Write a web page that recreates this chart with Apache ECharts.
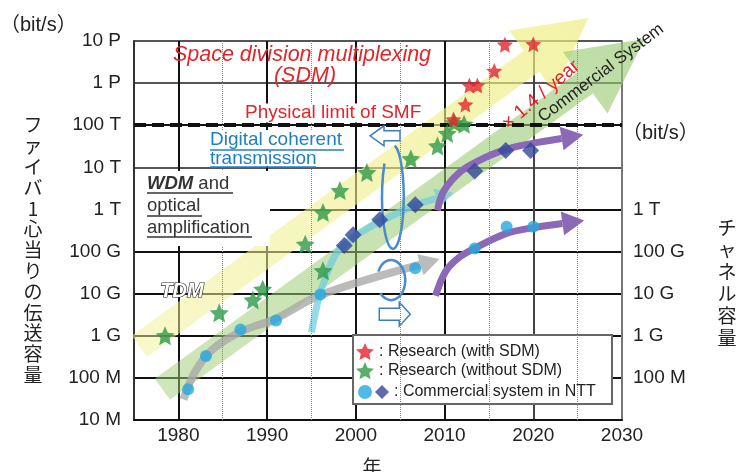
<!DOCTYPE html>
<html><head><meta charset="utf-8">
<script src="https://cdn.jsdelivr.net/npm/echarts@6/dist/echarts.min.js"></script>
<style>html,body{margin:0;padding:0;background:#fff}#c{width:742px;height:472px}</style>
</head><body><div id="c"></div>
<script>
// ---------- axes ----------
const xMin = 1975, xMax = 2030;
const yTickLabels  = ['10 M','100 M','1 G','10 G','100 G','1 T','10 T','100 T','1 P','10 P'];
const yRightLabels = ['', '100 M','1 G','10 G','100 G','1 T','','','',''];
const halfDecadeYears = [1985, 1995, 2005, 2015, 2025];
const physicalLimit = 1e14;

// ---------- data ----------
const sdmYears   = [2011.0, 2012.35, 2012.8, 2013.7, 2015.6, 2016.8, 2020.0];
const sdmValues  = [1.36e14, 3.1e14, 8.8e14, 8.8e14, 1.95e15, 8.2e15, 8.4e15];
const resYears   = [1978.5, 1984.6, 1988.4, 1989.5, 1994.3, 1996.3, 1996.3, 1998.2, 2001.25, 2006.2, 2009.2, 2010.3, 2011.1, 2012.2];
const resValues  = [1e9, 3.5e9, 7.1e9, 1.28e10, 1.5e11, 3.5e10, 8.5e11, 2.8e12, 7.5e12, 1.6e13, 3.2e13, 6.4e13, 1.15e14, 1.05e14];
const nttCircleYears  = [1981.1, 1983.1, 1987.0, 1991.0, 1996.0, 2006.7, 2013.4, 2017.0, 2020.0];
const nttCircleValues = [5.4e7, 3.3e8, 1.4e9, 2.3e9, 9.6e9, 4e10, 1.18e11, 3.9e11, 3.9e11];
const nttDiamondYears  = [1998.7, 1999.7, 2002.7, 2006.7, 2013.4, 2016.9, 2019.7];
const nttDiamondValues = [1.4e11, 2.5e11, 5.7e11, 1.3e12, 8.2e12, 2.5e13, 2.5e13];

// trend bands: tail, head base, tip
const researchBandYears    = [1975.6, 2019.8, 2026.2];
const researchBandValues   = [5.6e8, 3.3e15, 3.5e16];
const commercialBandYears  = [1978.2, 2025.85, 2032.55];
const commercialBandValues = [5.4e7, 1.02e15, 1.12e16];

// annotation arrows (last point = tip)
const tdmArrowYears   = [1980.57, 1981.93, 1983.86, 1987.05, 1991.02, 1996.02, 2009.43];
const tdmArrowValues  = [3.1e7, 1.45e8, 4.8e8, 1.26e9, 2.57e9, 9.3e9, 6.7e10];
const cohArrowYears   = [1995.0, 1995.68, 1996.59, 1997.73, 1999.2, 2001.25, 2004.09, 2006.7, 2011.02];
const cohArrowValues  = [1.2e9, 5.9e9, 2.5e10, 8.5e10, 1.8e11, 3.5e11, 7.1e11, 1.26e12, 2.5e12];
const sdmFiberArrowYears  = [2009.2, 2009.89, 2011.7, 2013.75, 2016.98, 2019.88, 2025.64];
const sdmFiberArrowValues = [9.5e11, 2.7e12, 7.6e12, 1.41e13, 2.7e13, 3.7e13, 5.9e13];
const channelArrowYears   = [2008.98, 2010.11, 2011.59, 2013.52, 2016.98, 2020.0, 2025.74];
const channelArrowValues  = [8.9e9, 3.35e10, 7.1e10, 1.23e11, 2.7e11, 3.7e11, 5.5e11];

// loops (bounding box) and hollow arrows (tip)
const bigLoopYears    = [2002.95, 2005.4];
const bigLoopValues   = [1.16e11, 3.4e13];
const smallLoopYears  = [2002.39, 2005.57];
const smallLoopValues = [7.0e9, 6.3e10];
const hollowArrowYears  = [2001.6, 2006.14];
const hollowArrowValues = [5.6e13, 3.26e9];

// ---------- styling ----------
const FONT = "'Liberation Sans', Arial, 'Noto Sans CJK JP', sans-serif";
const JP = "'Noto Sans CJK JP', sans-serif";
const RED = '#e3242b', BLUE = '#1f7fc6';
const T = 'rgba(0,0,0,0)';
const STAR = 'path://M100,0L127.6,62L195.1,69.1L144.7,114.5L158.8,180.9L100,147L41.2,180.9L55.3,114.5L4.9,69.1L72.4,62Z';
const hSplitColors = ['#111','#111','#111','#111','#111','#111','#555','#111','#555','#555'];
const vSplitColors = [T,'#111',T,'#111',T,'#111',T,'#111',T,'#444',T,'#777'];

const zip = (xs, ys) => xs.map((x, i) => [x, ys[i]]);

const bandDefs = [
  {years: researchBandYears, values: researchBandValues, c0: 'rgba(240,240,150,0.50)', c1: 'rgba(238,238,130,0.70)'},
  {years: commercialBandYears, values: commercialBandValues, c0: 'rgba(160,205,120,0.50)', c1: 'rgba(150,200,110,0.62)'}
];
const arrowDefs = [
  {years: tdmArrowYears, values: tdmArrowValues, color: 'rgba(170,170,170,0.8)', width: 8, headLen: 20, headHalf: 11},
  {years: cohArrowYears, values: cohArrowValues, color: 'rgba(115,205,220,0.75)', width: 7, headLen: 18, headHalf: 10},
  {years: sdmFiberArrowYears, values: sdmFiberArrowValues, color: '#8b69b7', width: 7, headLen: 22, headHalf: 12},
  {years: channelArrowYears, values: channelArrowValues, color: '#8b69b7', width: 7, headLen: 22, headHalf: 12}
];
const loopDefs = [
  {years: bigLoopYears, values: bigLoopValues, a0: -80, a1: 220},
  {years: smallLoopYears, values: smallLoopValues, a0: -155, a1: 140}
];
const hollowDefs = [
  {dir: -1, headLen: 14, headHalf: 10, shaftHalf: 5, total: 30},
  {dir: 1, headLen: 11, headHalf: 12, shaftHalf: 6, total: 31}
];

function bandItem(params, api) {
  const d = bandDefs[api.value(2)];
  const t = api.coord([d.years[0], d.values[0]]);
  const b = api.coord([d.years[1], d.values[1]]);
  const p = api.coord([d.years[2], d.values[2]]);
  let dx = b[0] - t[0], dy = b[1] - t[1];
  const L = Math.hypot(dx, dy); dx /= L; dy /= L;
  const nx = -dy, ny = dx, w = 13, H = 38;
  const pts = [
    [t[0] + nx * w, t[1] + ny * w], [b[0] + nx * w, b[1] + ny * w], [b[0] + nx * H, b[1] + ny * H], p,
    [b[0] - nx * H, b[1] - ny * H], [b[0] - nx * w, b[1] - ny * w], [t[0] - nx * w, t[1] - ny * w]
  ];
  return {type: 'polygon', shape: {points: pts},
    style: {fill: new echarts.graphic.LinearGradient(t[0], t[1], p[0], p[1],
      [{offset: 0, color: d.c0}, {offset: 1, color: d.c1}], true)}};
}
function arrowItem(params, api) {
  const d = arrowDefs[api.value(2)];
  const pts = d.years.map((x, i) => api.coord([x, d.values[i]]));
  const tip = pts[pts.length - 1], prev = pts[pts.length - 2];
  let dx = tip[0] - prev[0], dy = tip[1] - prev[1];
  const L = Math.hypot(dx, dy); dx /= L; dy /= L;
  const base = [tip[0] - dx * d.headLen, tip[1] - dy * d.headLen];
  const shaft = pts.slice(0, -1).concat([base]);
  const hh = d.headHalf;
  return {type: 'group', children: [
    {type: 'polyline', shape: {points: shaft, smooth: 0.35},
      style: {stroke: d.color, lineWidth: d.width, fill: null, lineCap: 'butt', lineJoin: 'round'}},
    {type: 'polygon', shape: {points: [tip, [base[0] - dy * hh, base[1] + dx * hh], [base[0] + dy * hh, base[1] - dx * hh]]},
      style: {fill: d.color}}
  ]};
}
function loopItem(params, api) {
  const k = api.value(2);
  if (k < 2) {
    const d = loopDefs[k];
    const p0 = api.coord([d.years[0], d.values[0]]);
    const p1 = api.coord([d.years[1], d.values[1]]);
    const cx = (p0[0] + p1[0]) / 2, cy = (p0[1] + p1[1]) / 2;
    const rx = Math.abs(p1[0] - p0[0]) / 2, ry = Math.abs(p1[1] - p0[1]) / 2;
    const r = a => [cx + rx * Math.cos(a * Math.PI / 180), cy + ry * Math.sin(a * Math.PI / 180)];
    const s = r(d.a0), e = r(d.a1);
    const large = ((d.a1 - d.a0 + 360) % 360) > 180 ? 1 : 0;
    return {type: 'path', shape: {pathData: `M${s[0]} ${s[1]} A${rx} ${ry} 0 ${large} 1 ${e[0]} ${e[1]}`},
      style: {stroke: '#4a8bcf', lineWidth: 2.5, fill: null}};
  }
  const h = hollowDefs[k - 2];
  const tp = api.coord([hollowArrowYears[k - 2], hollowArrowValues[k - 2]]);
  const s = h.dir, tx = tp[0], ty = tp[1];
  const pts = [[tx, ty], [tx - s * h.headLen, ty - h.headHalf], [tx - s * h.headLen, ty - h.shaftHalf],
    [tx - s * h.total, ty - h.shaftHalf], [tx - s * h.total, ty + h.shaftHalf],
    [tx - s * h.headLen, ty + h.shaftHalf], [tx - s * h.headLen, ty + h.headHalf]];
  return {type: 'polygon', shape: {points: pts}, style: {fill: '#fff', stroke: '#3e7cc0', lineWidth: 1.5}};
}

const SDM_NAME = ': Research (with SDM)';
const RES_NAME = ': Research (without SDM)';
const CIRCLE_NAME = 'NTT commercial (TDM / channel)';
const DIAMOND_NAME = ': Commercial system in NTT';

const leftTitle = 'ファイバ1心当りの伝送容量';
const rightTitle = 'チャネル容量';

function txt(text, x, y, o) {
  o = o || {};
  return {type: 'text', x: x, y: y, z: o.z || 7, rotation: o.rotation || 0,
    style: Object.assign({text: text, fill: '#222', fontSize: 19, fontFamily: FONT,
      textAlign: 'left', textVerticalAlign: 'middle'}, o.style || {})};
}
function uline(x1, x2, y, color) {
  return {type: 'line', z: 7, shape: {x1: x1, y1: y, x2: x2, y2: y}, style: {stroke: color, lineWidth: 1.3}};
}

const option = {
  animation: false,
  grid: {left: 134, right: 120, top: 41, bottom: 52, show: true, borderColor: '#777', borderWidth: 1.5},
  xAxis: {
    type: 'value', min: xMin, max: xMax, interval: 5,
    axisLine: {show: true, onZero: false, lineStyle: {color: '#111', width: 2}},
    axisTick: {show: false},
    axisLabel: {formatter: v => (v % 10 === 0 ? String(v) : ''), color: '#222', fontSize: 19, fontFamily: FONT, margin: 6},
    splitLine: {show: true, lineStyle: {color: vSplitColors, width: 2}}
  },
  yAxis: [{
    type: 'log', logBase: 10, min: 1e7, max: 1e16, splitNumber: 9, position: 'left',
    axisLine: {show: true, onZero: false, lineStyle: {color: '#333', width: 2}},
    axisTick: {show: false},
    axisLabel: {formatter: v => yTickLabels[Math.round(Math.log10(v)) - 7] || '', color: '#222', fontSize: 19, fontFamily: FONT, margin: 13},
    splitLine: {show: true, lineStyle: {color: hSplitColors, width: 2}}
  }, {
    type: 'log', logBase: 10, min: 1e7, max: 1e16, splitNumber: 9, position: 'right',
    axisLine: {show: false}, axisTick: {show: false}, splitLine: {show: false},
    axisLabel: {formatter: v => yRightLabels[Math.round(Math.log10(v)) - 7] || '', color: '#222', fontSize: 19, fontFamily: FONT, margin: 11}
  }],
  legend: [{
    orient: 'vertical', left: 356, top: 343, padding: 0, itemWidth: 18, itemHeight: 18, itemGap: 2,
    selectedMode: false, z: 6, data: [SDM_NAME, RES_NAME],
    textStyle: {fontSize: 16, color: '#222', fontFamily: FONT}
  }, {
    orient: 'horizontal', left: 358, top: 384, padding: 0, itemWidth: 14, itemHeight: 14, itemGap: 3,
    selectedMode: false, z: 6, data: [CIRCLE_NAME, DIAMOND_NAME],
    formatter: n => (n === CIRCLE_NAME ? '' : n),
    textStyle: {fontSize: 16, color: '#222', fontFamily: FONT}
  }],
  series: [
    {type: 'custom', name: 'bands', z: 1, silent: true, clip: false, renderItem: bandItem,
      encode: {x: 0, y: 1}, data: [[researchBandYears[0], researchBandValues[0], 0], [commercialBandYears[0], commercialBandValues[0], 1]]},
    {type: 'custom', name: 'arrows', z: 2, silent: true, clip: false, renderItem: arrowItem,
      encode: {x: 0, y: 1}, data: arrowDefs.map((d, i) => [d.years[0], d.values[0], i])},
    {type: 'custom', name: 'loops', z: 2, silent: true, clip: false, renderItem: loopItem,
      encode: {x: 0, y: 1}, data: [[bigLoopYears[0], bigLoopValues[0], 0], [smallLoopYears[0], smallLoopValues[0], 1],
        [hollowArrowYears[0], hollowArrowValues[0], 2], [hollowArrowYears[1], hollowArrowValues[1], 3]]},
    {type: 'scatter', name: CIRCLE_NAME, z: 3, symbol: 'circle', symbolSize: 12,
      itemStyle: {color: '#27a8e0'}, data: zip(nttCircleYears, nttCircleValues)},
    {type: 'scatter', name: DIAMOND_NAME, z: 3, symbol: 'diamond', symbolSize: 17,
      itemStyle: {color: '#33479b'}, data: zip(nttDiamondYears, nttDiamondValues),
      markLine: {silent: true, symbol: 'none', label: {show: false}, animation: false,
        lineStyle: {type: 'dotted', color: '#888', width: 1},
        data: halfDecadeYears.map(y => ({xAxis: y})).concat([
          {yAxis: physicalLimit, lineStyle: {type: [12, 6], color: '#111', width: 4}}])}},
    {type: 'scatter', name: RES_NAME, z: 5, symbol: STAR, symbolSize: 19,
      itemStyle: {color: '#2e9a47'}, data: zip(resYears, resValues)},
    {type: 'scatter', name: SDM_NAME, z: 5, symbol: STAR, symbolSize: 16,
      itemStyle: {color: RED}, data: zip(sdmYears, sdmValues)}
  ],
  graphic: [
    // white boxes behind text blocks
    {type: 'rect', z: 6.5, shape: {x: 135, y: 171, width: 135, height: 75}, style: {fill: '#fff'}},
    {type: 'rect', z: 6.5, shape: {x: 207, y: 130, width: 140, height: 36}, style: {fill: '#fff'}},
    {type: 'rect', z: 4, shape: {x: 353, y: 335, width: 259, height: 69}, style: {fill: '#fff', stroke: '#666', lineWidth: 2}},
    txt('Space division multiplexing', 302, 55, {style: {fill: RED, fontStyle: 'italic', fontSize: 21.5, textAlign: 'center'}}),
    txt('(SDM)', 305, 76, {style: {fill: RED, fontStyle: 'italic', fontSize: 21.5, textAlign: 'center'}}),
    txt('Physical limit of SMF', 243, 113, {style: {fill: RED, backgroundColor: '#fff', padding: [0, 2, 0, 2]}}),
    txt('Digital coherent', 210, 140, {style: {fill: BLUE}}),
    txt('transmission', 210, 159, {style: {fill: BLUE}}),
    uline(210, 344, 150, BLUE), uline(210, 316, 167, BLUE),
    txt('{b|WDM} and', 147, 184, {style: {fill: '#333', fontSize: 18.5,
      rich: {b: {fontWeight: 'bold', fontStyle: 'italic', fontSize: 18.5, fontFamily: FONT, fill: '#333'}}}}),
    txt('optical', 147, 206, {style: {fill: '#333', fontSize: 18.5}}),
    txt('amplification', 147, 228, {style: {fill: '#333', fontSize: 18.5}}),
    uline(147, 233, 193, '#333'), uline(147, 202, 216, '#333'), uline(147, 252, 237, '#333'),
    txt('TDM', 182, 291, {style: {fill: '#fff', stroke: '#222', lineWidth: 1.2, fontWeight: 'bold', fontStyle: 'italic',
      fontSize: 20, textAlign: 'center', shadowColor: 'rgba(0,0,0,0.5)', shadowOffsetX: 2, shadowOffsetY: 2, shadowBlur: 2}}),
    txt('× 1.4 / year', 541, 95, {rotation: 0.71, style: {fill: RED, textAlign: 'center'}}),
    txt('Commercial System', 601, 73, {rotation: 0.646, style: {fill: '#222', fontSize: 17, textAlign: 'center'}}),
    txt('（bit/s）', 0, 25, {style: {fontSize: 20}}),
    txt('（bit/s）', 622, 133, {style: {fontSize: 20}}),
    txt(leftTitle.split('').join('\n'), 33, 250, {style: {fontFamily: JP, textAlign: 'center', lineHeight: 20.8}}),
    txt(rightTitle.split('').join('\n'), 727, 283, {style: {fontFamily: JP, textAlign: 'center', lineHeight: 22}}),
    txt('年', 372, 467, {style: {fontFamily: JP, textAlign: 'center'}})
  ]
};
const chart = echarts.init(document.getElementById('c'), null, {renderer: 'canvas'});
chart.setOption(option);
</script></body></html>
